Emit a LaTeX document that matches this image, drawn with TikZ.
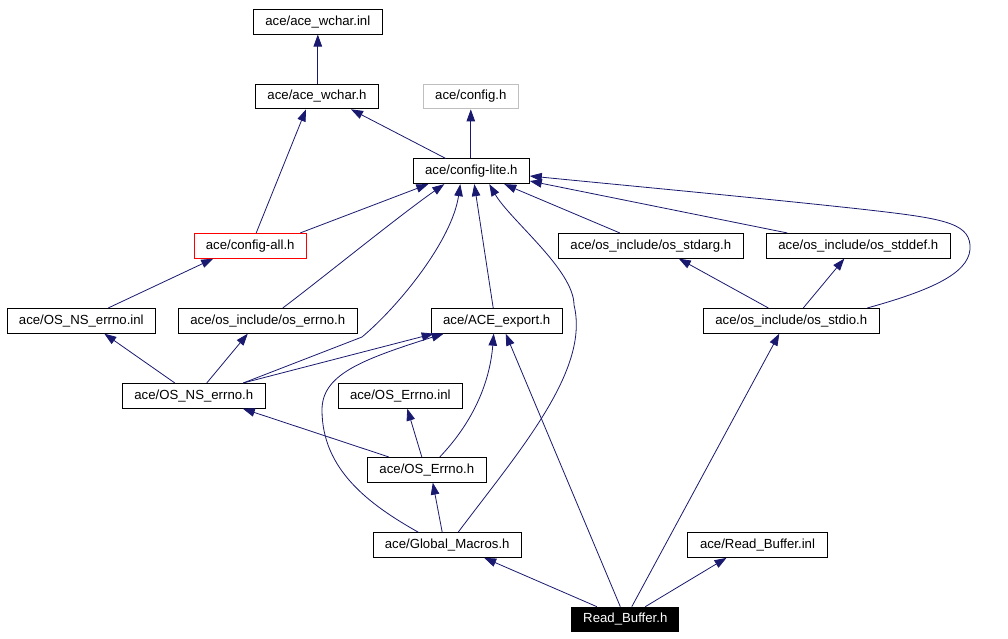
\documentclass[tikz,border=0pt]{standalone}
\usepackage{fontspec}
\setmainfont{Liberation Sans}
\usetikzlibrary{arrows.meta,calc}
\definecolor{edgeblue}{RGB}{25,25,112}
\definecolor{boxgray}{RGB}{191,191,191}
\begin{document}
\begin{tikzpicture}[x=1pt,y=-1pt,
  filebox/.style={draw=black,line width=1pt,inner sep=0pt,minimum height=24.7pt,
    font=\fontsize{13.2}{15}\selectfont,fill=white},
  edge/.style={draw=edgeblue,line width=0.8pt,-{Triangle[length=12pt,width=8.5pt]}}]
\useasboundingbox (0,0) rectangle (1008,639);
\fill[white] (0,0) rectangle (1008,639);
% nodes
\node[filebox,minimum width=129pt] (wcharinl) at (317.8,21.7) {ace/ace\_wchar.inl};
\node[filebox,minimum width=122.7pt] (wcharh) at (317,96.5) {ace/ace\_wchar.h};
\node[filebox,draw=boxgray,minimum width=95pt] (config) at (470.8,96.5) {ace/config.h};
\node[filebox,minimum width=116pt] (configlite) at (471.3,171.3) {ace/config-lite.h};
\node[filebox,draw=red,minimum width=112.4pt] (configall) at (250.2,245.8) {ace/config-all.h};
\node[filebox,minimum width=185pt] (stdarg) at (650.8,245.8) {ace/os\_include/os\_stdarg.h};
\node[filebox,minimum width=184pt] (stddef) at (858.3,245.8) {ace/os\_include/os\_stddef.h};
\node[filebox,minimum width=148pt] (nserrinl) at (81.3,320.8) {ace/OS\_NS\_errno.inl};
\node[filebox,minimum width=179pt] (oserrno) at (267.8,320.8) {ace/os\_include/os\_errno.h};
\node[filebox,minimum width=131.3pt] (aceexport) at (496.7,320.8) {ace/ACE\_export.h};
\node[filebox,minimum width=176pt] (stdio) at (791.3,320.8) {ace/os\_include/os\_stdio.h};
\node[filebox,minimum width=143pt] (nserrh) at (193.8,395.8) {ace/OS\_NS\_errno.h};
\node[filebox,minimum width=124pt] (errinl) at (400.3,395.8) {ace/OS\_Errno.inl};
\node[filebox,minimum width=119pt] (errh) at (426.8,469.8) {ace/OS\_Errno.h};
\node[filebox,minimum width=148.3pt] (gm) at (447.2,545) {ace/Global\_Macros.h};
\node[filebox,minimum width=140.4pt] (rbinl) at (757.5,545) {ace/Read\_Buffer.inl};
\node[filebox,fill=black,text=white,minimum width=106.7pt] (rbh) at (625.3,619.5) {Read\_Buffer.h};
% edges
\draw[edge] (wcharinl.south |- wcharh.north) -- (wcharinl.south);
\draw[edge] ($(configlite.north)+(-25.6,0)$) -- ($(wcharh.south)+(34,0)$);
\draw[edge] (config.south |- configlite.north) -- (config.south);
\draw[edge] ($(configall.north)+(6,0)$) -- ($(wcharh.south)+(-11,0)$);
\draw[edge] ($(configall.north)+(50,0)$) -- ($(configlite.south)+(-43,0)$);
\draw[edge] ($(nserrinl.north)+(27,0)$) -- ($(configall.south)+(-37,0)$);
\draw[edge] ($(oserrno.north)+(15,0)$) .. controls (320,280) and (400,215) .. ($(configlite.south)+(-27,0)$);
\draw[edge] ($(nserrh.north)+(49.5,0)$) -- (362,337) .. controls (400,305) and (452,240) .. ($(configlite.south)+(-11,0)$);
\draw[edge] ($(nserrh.north)+(-19,0)$) -- ($(nserrinl.south)+(23,0)$);
\draw[edge] ($(nserrh.north)+(13,0)$) -- ($(oserrno.south)+(-20,0)$);
\draw[edge] ($(nserrh.north)+(49.5,0)$) -- ($(aceexport.south)+(-63,0)$);
\draw[edge] ($(errh.north)+(-38,0)$) -- ($(nserrh.south)+(49,0)$);
\draw[edge] ($(errh.north)+(-5,0)$) -- ($(errinl.south)+(7,0)$);
\draw[edge] ($(errh.north)+(13,0)$) .. controls (475,420) and (490,380) .. ($(aceexport.south)+(-3,0)$);
\draw[edge] ($(gm.north)+(-29,0)$) .. controls (370,505) and (322,470) .. (322,410) .. controls (322,375) and (360,360) .. ($(aceexport.south)+(-53,0)$);
\draw[edge] ($(gm.north)+(-5,0)$) -- ($(errh.south)+(6,0)$);
\draw[edge] ($(gm.north)+(11,0)$) .. controls (520,450) and (590,370) .. (574,305) .. controls (574,270) and (510,220) .. ($(configlite.south)+(18,0)$);
\draw[edge] ($(aceexport.north)+(-3.5,0)$) -- ($(configlite.south)+(3,0)$);
\draw[edge] ($(stdarg.north)+(-31,0)$) -- ($(configlite.south)+(33,0)$);
\draw[edge] ($(stddef.north)+(-71,0)$) -- ($(configlite.east)+(0,9.7)$);
\draw[edge] ($(stdio.north)+(76,0)$) .. controls (940,288) and (972,270) .. (970,245) .. controls (968,222) and (940,218) .. (860,209) .. controls (760,198) and (600,183) .. ($(configlite.east)+(0,4.7)$);
\draw[edge] ($(stdio.north)+(-23,0)$) -- ($(stdarg.south)+(28,0)$);
\draw[edge] ($(stdio.north)+(12,0)$) -- ($(stddef.south)+(-14,0)$);
\draw[edge] ($(rbh.north)+(-28.5,0)$) -- ($(gm.south)+(37,0)$);
\draw[edge] ($(rbh.north)+(-5,0)$) -- ($(aceexport.south)+(9,0)$);
\draw[edge] ($(rbh.north)+(6.5,0)$) -- ($(stdio.south)+(-12,0)$);
\draw[edge] ($(rbh.north)+(20,0)$) -- ($(rbinl.south)+(-31,0)$);
\end{tikzpicture}
\end{document}
